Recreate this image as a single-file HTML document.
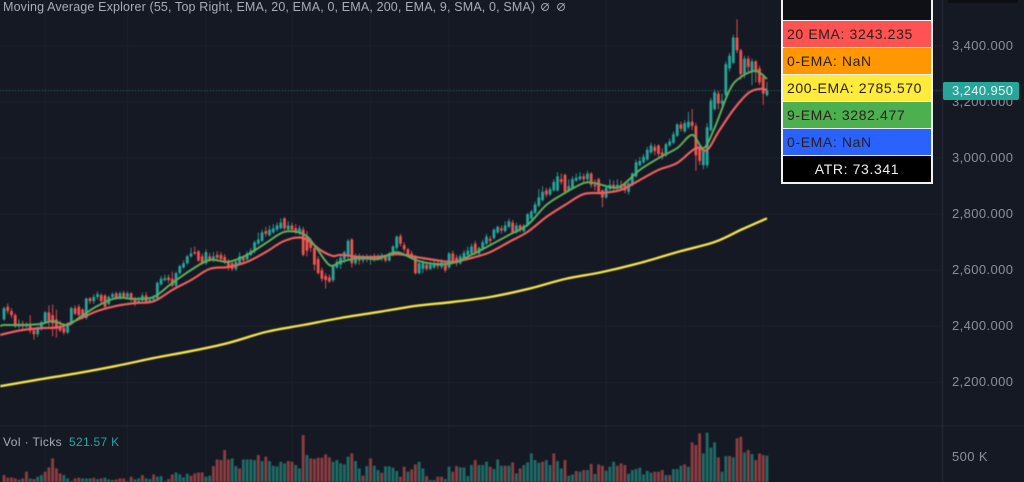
<!DOCTYPE html>
<html lang="en">
<head>
<meta charset="utf-8">
<title>Moving Average Explorer chart</title>
<style>
html,body{margin:0;padding:0;background:#151924;}
#chart-root{position:relative;width:1024px;height:482px;overflow:hidden;background:#151924;font-family:"Liberation Sans",sans-serif;}
#chart-svg{position:absolute;left:0;top:0;filter:blur(0.45px);}
.txt{position:absolute;white-space:nowrap;}
#title{left:3px;top:0;font-size:12.5px;line-height:14px;color:#a9acb5;letter-spacing:0.15px;}
#vol-label{left:3px;top:435px;font-size:12px;line-height:14px;color:#a9acb5;letter-spacing:0.4px;}
#vol-value{left:69px;top:435px;font-size:12px;line-height:14px;color:#26a69a;letter-spacing:0.3px;}
.icon{position:absolute;top:3px;width:6px;height:6px;border:1px solid #a0a3ac;border-radius:50%;}
.icon:after{content:"";position:absolute;left:-1px;top:2px;width:9px;height:1px;background:#a0a3ac;transform:rotate(-45deg);}
.axis-label{position:absolute;left:952px;font-size:13px;line-height:16px;color:#8b8f99;letter-spacing:0.4px;white-space:nowrap;}
#price-tag{position:absolute;left:943px;top:82px;width:76px;height:18px;background:#26a69a;border-radius:2px;color:#e4f5f3;font-size:13px;line-height:18px;text-indent:9px;letter-spacing:0.4px;}
#top-tag{position:absolute;left:948px;top:-4px;width:70px;height:7px;background:#0d0f15;border-radius:2px;}
#panel{position:absolute;left:781px;top:-2px;width:148px;height:182px;border:2px solid #f2f2f2;background:#f2f2f2;}
.row{position:absolute;left:0;width:148px;height:26px;font-size:14px;line-height:26px;color:#2a2018;text-indent:4px;letter-spacing:0.62px;white-space:nowrap;}
</style>
</head>
<body>
<div id="chart-root">
<svg id="chart-svg" width="1024" height="482" viewBox="0 0 1024 482"></svg>
<div id="title" class="txt">Moving Average Explorer (55, Top Right, EMA, 20, EMA, 0, EMA, 200, EMA, 9, SMA, 0, SMA)</div>
<div class="icon" style="left:541px"></div>
<div class="icon" style="left:557px"></div>
<div id="vol-label" class="txt">Vol · Ticks</div>
<div id="vol-value" class="txt">521.57 K</div>
<div id="axis-labels"></div>
<div id="top-tag"></div>
<div id="price-tag">3,240.950</div>
<div class="axis-label" style="top:449px">500 K</div>
<div id="panel">
  <div class="row" style="top:0;height:20px;background:#0e1016"></div>
  <div class="row" style="top:21px;background:#ff5252">20 EMA: 3243.235</div>
  <div class="row" style="top:48px;background:#ff9800">0-EMA: NaN</div>
  <div class="row" style="top:75px;background:#ffeb3b">200-EMA: 2785.570</div>
  <div class="row" style="top:102px;background:#4caf50">9-EMA: 3282.477</div>
  <div class="row" style="top:129px;background:#2962ff">0-EMA: NaN</div>
  <div class="row" style="top:156px;background:#000;color:#f0f0f0;text-indent:0;text-align:center">ATR: 73.341</div>
</div>
</div>
<script>
const gridPrices = [3400, 3200, 3000, 2800, 2600, 2400, 2200];
const tickLabels = ["3,400.000", "3,200.000", "3,000.000", "2,800.000", "2,600.000", "2,400.000", "2,200.000"];
const gridBars = [11, 33, 54, 77, 98, 119, 141, 161, 182, 203];
const lastPrice = 3240.95;

const opens = [2425,2470,2455,2440,2400,2410,2400,2408,2385,2372,
2395,2415,2450,2440,2425,2400,2395,2378,2410,2465,
2470,2460,2430,2500,2490,2505,2512,2510,2480,2505,
2518,2500,2520,2505,2518,2495,2485,2492,2510,2485,
2495,2500,2550,2565,2575,2570,2545,2590,2610,2625,
2650,2665,2668,2650,2625,2650,2635,2655,2655,2648,
2635,2625,2605,2625,2645,2640,2655,2668,2695,2705,
2740,2725,2735,2745,2750,2785,2745,2760,2750,2735,
2745,2720,2700,2680,2640,2600,2580,2575,2565,2610,
2620,2640,2650,2710,2625,2650,2635,2650,2640,2652,
2640,2642,2650,2635,2655,2680,2722,2690,2675,2660,
2650,2590,2605,2620,2605,2610,2625,2612,2625,2610,
2660,2645,2625,2640,2655,2660,2695,2660,2675,2695,
2712,2715,2735,2750,2740,2755,2770,2735,2760,2740,
2760,2785,2805,2830,2850,2885,2870,2885,2885,2925,
2940,2885,2895,2920,2925,2935,2925,2945,2905,2925,
2885,2860,2890,2905,2895,2905,2910,2880,2905,2935,
2975,2985,2995,3020,3040,3045,3020,3010,3045,3055,
3080,3120,3095,3110,3130,3115,3040,2975,2975,3100,
3175,3230,3195,3225,3320,3340,3430,3385,3300,3355,
3310,3345,3320,3290,3225];

const highs = [2470,2482,2465,2447,2425,2420,2415,2440,2395,2400,
2420,2455,2475,2478,2460,2420,2405,2415,2470,2475,
2478,2465,2502,2505,2515,2525,2518,2515,2510,2522,
2525,2525,2527,2525,2522,2505,2505,2520,2522,2505,
2512,2560,2580,2585,2585,2595,2595,2620,2635,2655,
2680,2685,2672,2660,2675,2662,2665,2668,2665,2658,
2640,2630,2640,2665,2650,2668,2680,2706,2735,2745,
2755,2760,2765,2770,2785,2790,2775,2770,2765,2760,
2755,2740,2715,2690,2650,2610,2590,2585,2620,2640,
2655,2670,2712,2715,2660,2660,2656,2658,2655,2660,
2658,2662,2655,2665,2690,2725,2730,2700,2680,2670,
2655,2630,2635,2630,2630,2635,2632,2640,2630,2665,
2670,2655,2658,2672,2685,2695,2705,2685,2710,2730,
2722,2750,2760,2760,2775,2785,2780,2770,2765,2765,
2805,2815,2845,2890,2900,2895,2898,2925,2950,2945,
2945,2925,2935,2945,2950,2945,2955,2950,2925,2930,
2890,2905,2925,2920,2925,2920,2915,2915,2950,2995,
3005,3015,3040,3055,3050,3050,3035,3055,3070,3095,
3125,3130,3135,3165,3175,3125,3050,3035,3125,3215,
3245,3240,3230,3345,3375,3440,3495,3390,3365,3365,
3355,3350,3330,3300,3272];

const lows = [2420,2445,2430,2395,2392,2385,2395,2375,2352,2362,
2385,2410,2400,2365,2360,2380,2370,2372,2405,2440,
2435,2425,2425,2480,2480,2495,2480,2465,2475,2498,
2495,2495,2500,2500,2488,2472,2480,2488,2480,2482,
2490,2495,2545,2560,2555,2540,2540,2585,2605,2620,
2645,2655,2630,2620,2620,2630,2630,2635,2632,2622,
2600,2598,2598,2620,2625,2635,2650,2660,2690,2700,
2720,2720,2730,2738,2745,2742,2740,2735,2730,2725,
2650,2650,2665,2600,2585,2560,2535,2555,2558,2605,
2605,2625,2640,2610,2618,2620,2625,2628,2620,2630,
2635,2632,2628,2630,2650,2672,2685,2665,2645,2640,
2585,2585,2590,2598,2600,2605,2605,2605,2592,2605,
2625,2615,2620,2635,2650,2655,2655,2650,2670,2690,
2695,2710,2730,2730,2735,2750,2730,2730,2735,2735,
2755,2780,2800,2825,2845,2860,2865,2880,2880,2905,
2875,2880,2890,2915,2920,2915,2915,2895,2885,2870,
2825,2855,2885,2885,2885,2885,2875,2870,2900,2930,
2970,2980,2990,3015,3010,3005,2995,3005,3040,3050,
3075,3095,3090,3105,3100,2955,2975,2960,2965,3095,
3170,3175,3185,3215,3310,3335,3375,3280,3285,3300,
3260,3270,3260,3190,3220];

const closes = [2465,2455,2440,2400,2410,2400,2408,2385,2372,2395,
2415,2450,2420,2410,2395,2385,2378,2410,2465,2445,
2440,2430,2500,2490,2505,2515,2490,2470,2505,2515,
2500,2518,2505,2518,2495,2485,2492,2510,2485,2495,
2500,2555,2570,2572,2565,2545,2590,2615,2625,2650,
2660,2660,2635,2625,2665,2640,2650,2645,2640,2630,
2610,2605,2630,2650,2635,2660,2670,2700,2710,2735,
2730,2745,2750,2760,2770,2750,2760,2745,2740,2750,
2655,2670,2680,2620,2590,2570,2565,2560,2615,2630,
2645,2665,2705,2625,2645,2635,2648,2640,2650,2640,
2650,2652,2635,2660,2685,2720,2695,2675,2655,2650,
2590,2625,2625,2605,2620,2625,2615,2628,2600,2660,
2630,2625,2650,2662,2670,2685,2660,2680,2700,2720,
2705,2745,2755,2742,2760,2775,2735,2760,2745,2760,
2800,2810,2835,2860,2880,2870,2890,2915,2935,2915,
2880,2900,2925,2930,2935,2925,2945,2905,2900,2880,
2860,2895,2905,2895,2905,2892,2885,2910,2945,2985,
2990,3005,3030,3045,3025,3015,3005,3050,3060,3085,
3120,3105,3125,3130,3115,3010,2990,3025,3110,3205,
3235,3195,3205,3335,3365,3430,3385,3300,3355,3325,
3345,3310,3270,3230,3240.95];

const volumes = [199,155,160,143,121,143,255,143,132,171,
199,255,327,477,310,227,199,143,99,143,
155,143,143,143,155,132,143,155,127,116,
127,143,143,99,171,127,143,199,143,132,
210,171,182,99,132,210,243,210,160,221,
188,227,243,243,171,188,349,460,449,616,
460,477,349,310,460,460,460,449,533,432,
505,432,355,344,421,394,432,421,366,310,
866,533,477,466,488,488,544,494,421,449,
394,377,505,560,432,310,188,349,477,355,
282,238,344,344,321,266,
171,338,255,294,377,421,310,182,116,116,
171,171,132,338,255,349,327,327,182,366,
449,366,366,421,338,299,460,355,355,355,
410,227,310,366,410,560,449,405,421,449,
366,560,432,310,449,188,210,266,255,282,
282,383,216,377,355,271,338,421,355,394,
366,221,282,299,321,210,271,238,255,255,
282,199,199,299,299,355,377,338,744,699,
894,560,905,655,744,494,255,516,516,494,
811,838,577,616,549,449,560,533,522];

const volumeDirectionRows = [
"dddduddudu","uddddduuud","duuududuuu","ddduduuduu","duuudduuuu",
"dddduudddd","duuduuuudu","duuuuudduu","dudddddduu","uuuduududu",
"uduuuu",
"ddudduuduu","dduudduuuu","duuuduuudu","duduuuuudu","uduuduudud",
"ududduuudd","duuuuuuudd","duduuududd","duuuuduudu","ddududddu"];

const ema9Bars = [-1,0,5,10,13,17,20,25,30,35,40,45,50,55,60,65,70,75,80,83,87,90,95,100,105,110,115,120,125,130,135,140,145,150,155,158,162,165,170,175,180,184,187,190,194,197,201,204];
const ema9Values = [2400,2405,2405,2409,2419,2405,2430,2473,2501,2498,2505,2555,2601,2637,2630,2655,2697,2737,2730,2690,2619,2630,2644,2640,2665,2637,2623,2626,2655,2690,2726,2762,2833,2876,2911,2911,2897,2900,2958,3000,3036,3083,3036,3108,3243,3289,3311,3282.477];

const ema20Bars = [-1,0,5,10,15,20,25,30,35,40,45,50,55,60,65,70,75,80,85,88,90,95,100,105,110,115,120,125,130,135,140,145,150,155,160,165,170,175,180,185,188,191,195,199,202,204];
const ema20Values = [2369,2373,2387,2394,2398,2426,2455,2473,2483,2489,2530,2565,2605,2612,2630,2665,2705,2715,2669,2651,2655,2648,2648,2658,2648,2637,2630,2644,2665,2701,2737,2790,2833,2872,2876,2887,2922,2958,2983,3036,3029,3093,3172,3232,3247,3243.235];

const ema200Bars = [-1,0,10,20,30,40,50,60,70,80,90,100,110,120,130,140,150,160,170,180,190,197,204];
const ema200Values = [2187,2189,2212,2234,2259,2287,2312,2341,2380,2405,2430,2451,2473,2487,2505,2533,2569,2594,2626,2665,2701,2744,2785.57];

const SVG_NS = "http://www.w3.org/2000/svg";
const svg = document.getElementById("chart-svg");
const yScale = function (price) { return 46 + (3400 - price) * 0.2804; };
const xScale = function (bar) { return 4 + bar * 3.74; };
const volScale = function (v) { return 487 - v * 0.06; };

function mk(tag, attrs) {
  const el = document.createElementNS(SVG_NS, tag);
  for (const k in attrs) { el.setAttribute(k, attrs[k]); }
  svg.appendChild(el);
  return el;
}

gridPrices.forEach(function (p) {
  const y = yScale(p);
  const line = mk("line", { x1: 0, x2: 943, y1: y, y2: y, stroke: "#1d212c", "stroke-width": 1 });
  
  
});
gridBars.forEach(function (b) {
  const x = xScale(b);
  const line = mk("line", { x1: x, x2: x, y1: 0, y2: 482, stroke: "#1d212c", "stroke-width": 1 });
  
  
});

const axisLine = mk("line", { x1: 942.5, x2: 942.5, y1: 0, y2: 482, stroke: "#2a2e3a", "stroke-width": 1 });


const paneLine = mk("line", { x1: 0, x2: 1024, y1: 426, y2: 426, stroke: "#262a36", "stroke-width": 1 });



const dirs = volumeDirectionRows.join("");
volumes.forEach(function (v, i) {
  const top = volScale(v);
  const up = dirs.charAt(i) === "u";
  const bar = mk("rect", { x: xScale(i) - 1.45, y: top, width: 2.9, height: 482 - top, fill: up ? "#1f6b66" : "#8c3d40" });
  
  
});

const lastY = yScale(lastPrice);
const lastLine = mk("line", { x1: 0, x2: 943, y1: lastY, y2: lastY, stroke: "#26a69a", "stroke-width": 1, "stroke-dasharray": "1 2", opacity: 0.75 });



closes.forEach(function (c, i) {
  const o = opens[i];
  const up = c >= o;
  const col = up ? "#26a69a" : "#ef5350";
  const wick = mk("line", { x1: xScale(i), x2: xScale(i), y1: yScale(highs[i]), y2: yScale(lows[i]), stroke: col, "stroke-width": 0.9 });
  
  
  const bodyTop = yScale(Math.max(o, c));
  const bodyH = Math.max(1, Math.abs(yScale(o) - yScale(c)));
  const body = mk("rect", { x: xScale(i) - 1.4, y: bodyTop, width: 2.8, height: bodyH, fill: col });
  
  
});

function smoothPath(bars, values) {
  const pts = bars.map(function (b, i) { return [xScale(b), yScale(values[i])]; });
  let d = "M" + pts[0][0].toFixed(1) + " " + pts[0][1].toFixed(1);
  for (let i = 0; i < pts.length - 1; i++) {
    const p0 = pts[Math.max(0, i - 1)];
    const p1 = pts[i];
    const p2 = pts[i + 1];
    const p3 = pts[Math.min(pts.length - 1, i + 2)];
    const c1x = p1[0] + (p2[0] - p0[0]) / 6;
    const c1y = p1[1] + (p2[1] - p0[1]) / 6;
    const c2x = p2[0] - (p3[0] - p1[0]) / 6;
    const c2y = p2[1] - (p3[1] - p1[1]) / 6;
    d += "C" + c1x.toFixed(1) + " " + c1y.toFixed(1) + " " + c2x.toFixed(1) + " " + c2y.toFixed(1) + " " + p2[0].toFixed(1) + " " + p2[1].toFixed(1);
  }
  return d;
}
const ema200Line = mk("path", { d: smoothPath(ema200Bars, ema200Values), fill: "none", stroke: "#f2e445", "stroke-width": 2.4 });


const ema20Line = mk("path", { d: smoothPath(ema20Bars, ema20Values), fill: "none", stroke: "#ec5f5f", "stroke-width": 2.2 });


const ema9Line = mk("path", { d: smoothPath(ema9Bars, ema9Values), fill: "none", stroke: "#5cad5c", "stroke-width": 2 });



const labelHost = document.getElementById("axis-labels");
gridPrices.forEach(function (p, i) {
  const d = document.createElement("div");
  d.className = "axis-label";
  d.style.top = (yScale(p) - 8) + "px";
  d.textContent = tickLabels[i];
  
  
  labelHost.appendChild(d);
});
</script>
</body>
</html>
